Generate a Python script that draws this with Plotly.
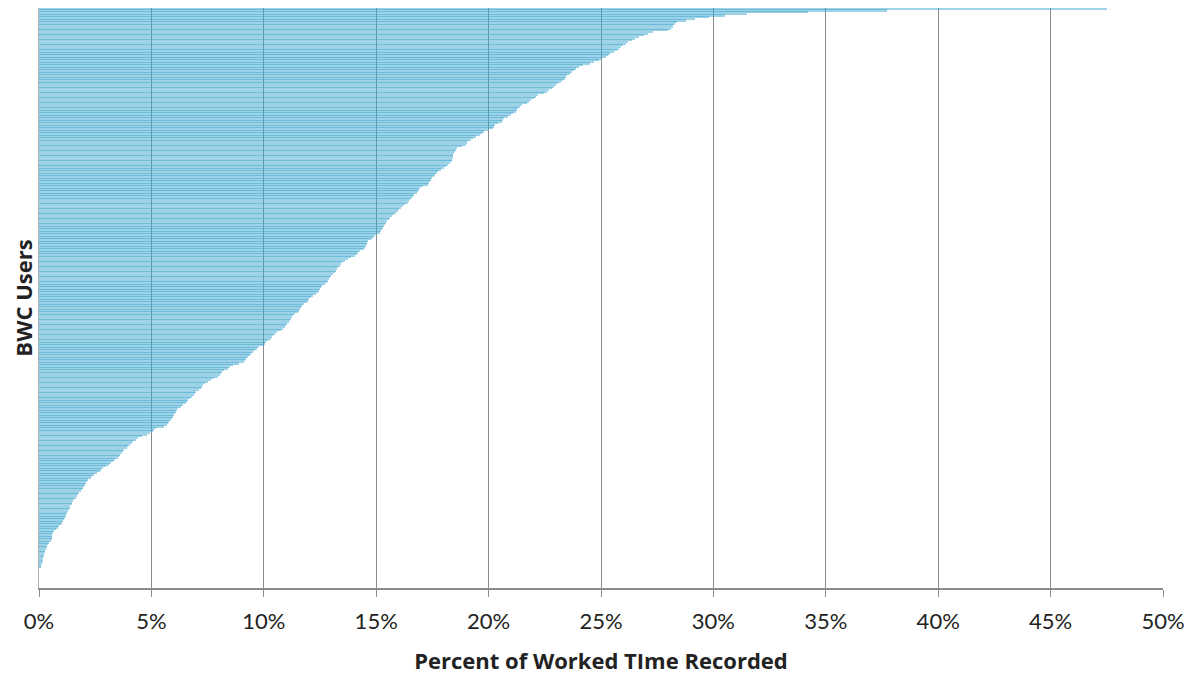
import plotly.graph_objects as go

# Percent of worked time recorded per BWC user, sorted (top of chart first)
pct_recorded = [
    47.5, 37.7, 34.2, 31.5, 30.5, 29.8, 29.2, 28.8, 28.4, 28.3,
    28.2, 28.2, 28.1, 28.0, 27.3, 27.1, 26.9, 26.7, 26.5, 26.4,
    26.2, 26.1, 26.0, 25.9, 25.8, 25.7, 25.6, 25.4, 25.3, 25.2,
    25.0, 24.9, 24.7, 24.5, 24.2, 24.0, 23.9, 23.8, 23.7, 23.6,
    23.5, 23.45, 23.4, 23.3, 23.2, 23.1, 23.0, 22.9, 22.8, 22.7,
    22.6, 22.45, 22.2, 22.1, 22.0, 21.9, 21.8, 21.7, 21.5, 21.4,
    21.3, 21.25, 21.2, 21.1, 21.0, 20.85, 20.7, 20.65, 20.6, 20.4,
    20.3, 20.25, 20.2, 20.0, 19.8, 19.7, 19.6, 19.45, 19.3, 19.2,
    19.1, 19.05, 19.0, 18.8, 18.6, 18.55, 18.5, 18.45, 18.4, 18.4,
    18.4, 18.35, 18.35, 18.3, 18.2, 18.1, 18.0, 17.9, 17.75, 17.7,
    17.6, 17.55, 17.5, 17.45, 17.4, 17.35, 17.3, 17.1, 16.95, 16.9,
    16.85, 16.8, 16.7, 16.65, 16.6, 16.5, 16.45, 16.4, 16.3, 16.2,
    16.1, 16.0, 15.95, 15.9, 15.8, 15.7, 15.6, 15.55, 15.5, 15.45,
    15.4, 15.35, 15.3, 15.25, 15.2, 15.15, 15.05, 14.95, 14.85, 14.75,
    14.65, 14.6, 14.6, 14.55, 14.5, 14.4, 14.3, 14.2, 14.15, 14.05,
    13.9, 13.75, 13.6, 13.5, 13.45, 13.4, 13.3, 13.25, 13.2, 13.15,
    13.1, 13.0, 12.95, 12.9, 12.85, 12.8, 12.7, 12.6, 12.55, 12.5,
    12.45, 12.4, 12.3, 12.2, 12.1, 12.0, 11.95, 11.9, 11.8, 11.7,
    11.65, 11.6, 11.55, 11.5, 11.4, 11.3, 11.25, 11.2, 11.15, 11.1,
    11.05, 11.0, 10.95, 10.85, 10.75, 10.6, 10.5, 10.4, 10.35, 10.3,
    10.2, 10.1, 10.05, 10.0, 9.8, 9.7, 9.6, 9.5, 9.45, 9.4,
    9.3, 9.2, 9.15, 9.1, 8.9, 8.65, 8.5, 8.4, 8.25, 8.15,
    8.1, 8.05, 7.95, 7.8, 7.65, 7.5, 7.4, 7.3, 7.25, 7.2,
    7.1, 7.0, 6.95, 6.9, 6.8, 6.7, 6.65, 6.6, 6.5, 6.4,
    6.3, 6.2, 6.15, 6.1, 6.05, 6.0, 5.95, 5.9, 5.85, 5.8,
    5.75, 5.7, 5.55, 5.2, 5.1, 5.05, 4.95, 4.8, 4.6, 4.4,
    4.3, 4.2, 4.15, 4.05, 3.95, 3.9, 3.8, 3.75, 3.7, 3.6,
    3.55, 3.5, 3.4, 3.3, 3.2, 3.1, 3.0, 2.85, 2.75, 2.7,
    2.6, 2.45, 2.35, 2.3, 2.2, 2.15, 2.1, 2.05, 2.0, 1.95,
    1.9, 1.85, 1.8, 1.75, 1.7, 1.65, 1.55, 1.5, 1.48, 1.45,
    1.4, 1.38, 1.32, 1.28, 1.24, 1.2, 1.18, 1.15, 1.1, 1.08,
    1.03, 0.98, 0.9, 0.85, 0.75, 0.68, 0.62, 0.6, 0.6, 0.58,
    0.57, 0.55, 0.45, 0.4, 0.37, 0.34, 0.3, 0.27, 0.26, 0.24,
    0.2, 0.18, 0.17, 0.16, 0.14, 0.12, 0.1, 0.08, 0.0, 0.0,
    0.0, 0.0, 0.0, 0.0, 0.0, 0.0, 0.0, 0.0, 0.0, 0.0,
]
user_rank = list(range(len(pct_recorded)))

x_tick_vals = [0, 5, 10, 15, 20, 25, 30, 35, 40, 45, 50]
x_tick_text = ["0%", "5%", "10%", "15%", "20%", "25%", "30%", "35%", "40%", "45%", "50%"]

x_title = "Percent of Worked TIme Recorded"
y_title = "BWC Users"

fig = go.Figure(
    go.Bar(
        x=pct_recorded,
        y=user_rank,
        orientation="h",
        width=1.3,
        marker=dict(color="rgba(62,165,206,0.5)", line=dict(width=0)),
        hoverinfo="x",
    )
)

n = len(pct_recorded)
# page body has an 8px default margin; figure is sized to fill the rest of the window
fig.update_layout(
    width=1186,
    height=670,
    margin=dict(l=31, r=31, t=0, b=90, autoexpand=False),
    paper_bgcolor="white",
    plot_bgcolor="white",
    showlegend=False,
    bargap=0,
    font=dict(family="Lato, Open Sans, sans-serif", color="#222222"),
    xaxis=dict(
        range=[0, 50],
        tickvals=x_tick_vals,
        ticktext=x_tick_text,
        tickfont=dict(size=22, color="#222222", family="Lato"),
        ticklabelstandoff=6,
        showgrid=True,
        gridcolor="#8a8a8a",
        gridwidth=1,
        zeroline=False,
        showline=True,
        linecolor="#8c8c8c",
        linewidth=2,
        ticks="outside",
        ticklen=7,
        tickcolor="#8c8c8c",
        tickwidth=1,
        title=dict(text=x_title, font=dict(size=22, color="#222222", family="Open Sans", weight="bold"), standoff=20),
    ),
    yaxis=dict(
        range=[n - 0.5, -0.5],
        showticklabels=False,
        showgrid=False,
        zeroline=False,
        showline=True,
        linecolor="#b0b0b0",
        linewidth=1,
        ticks="",
        title=dict(text=y_title, font=dict(size=22, color="#222222", family="Open Sans", weight="bold"), standoff=5),
    ),
)

fig.write_html("out.html")
